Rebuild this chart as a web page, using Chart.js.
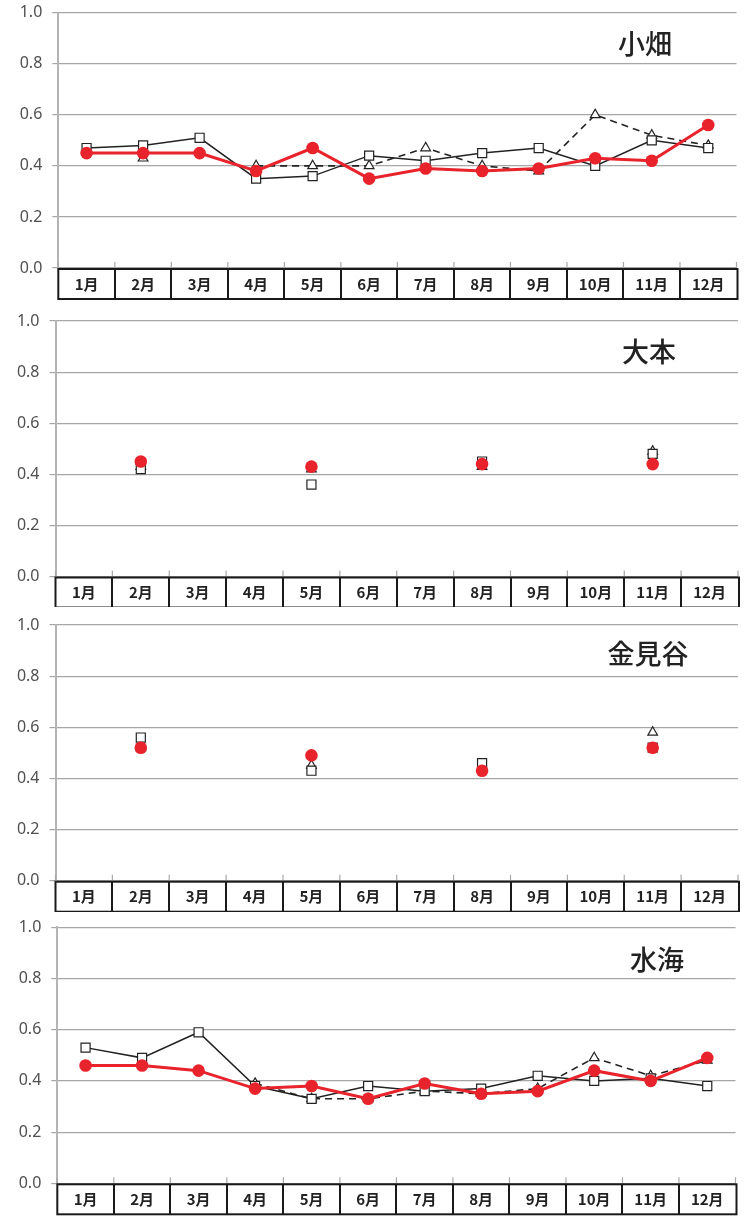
<!DOCTYPE html>
<html>
<head>
<meta charset="utf-8">
<script src="https://cdn.jsdelivr.net/npm/chart.js@4.4.1/dist/chart.umd.min.js"></script>
<style>
  html, body { margin: 0; padding: 0; background: #fff; }
  body { width: 749px; height: 1217px; position: relative; overflow: hidden; }
  .panel { position: absolute; left: 0; width: 749px; }
  .panel canvas { display: block; }
</style>
</head>
<body>
<div class="panel" id="wrap1"><canvas id="c1"></canvas></div>
<div class="panel" id="wrap2"><canvas id="c2"></canvas></div>
<div class="panel" id="wrap3"><canvas id="c3"></canvas></div>
<div class="panel" id="wrap4"><canvas id="c4"></canvas></div>
<script>
// Months along the x axis and y axis tick values
const months = ['1月', '2月', '3月', '4月', '5月', '6月', '7月', '8月', '9月', '10月', '11月', '12月'];
const yTickValues = [0, 0.2, 0.4, 0.6, 0.8, 1.0];

// 小畑
const obataSquare   = [0.47, 0.48, 0.51, 0.35, 0.36, 0.44, 0.42, 0.45, 0.47, 0.40, 0.50, 0.47];
const obataTriangle = [null, 0.43, null, 0.40, 0.40, 0.40, 0.47, 0.40, 0.38, 0.60, 0.52, 0.48];
const obataCircle   = [0.45, 0.45, 0.45, 0.38, 0.47, 0.35, 0.39, 0.38, 0.39, 0.43, 0.42, 0.56];

// 大本
const omotoSquare   = [null, 0.42, null, null, 0.36, null, null, 0.45, null, null, 0.48, null];
const omotoTriangle = [null, 0.43, null, null, 0.42, null, null, 0.43, null, null, 0.49, null];
const omotoCircle   = [null, 0.45, null, null, 0.43, null, null, 0.44, null, null, 0.44, null];

// 金見谷
const kanamidaniSquare   = [null, 0.56, null, null, 0.43, null, null, 0.46, null, null, 0.52, null];
const kanamidaniTriangle = [null, 0.52, null, null, 0.45, null, null, 0.44, null, null, 0.58, null];
const kanamidaniCircle   = [null, 0.52, null, null, 0.49, null, null, 0.43, null, null, 0.52, null];

// 水海
const uomiSquare   = [0.53, 0.49, 0.59, 0.38, 0.33, 0.38, 0.36, 0.37, 0.42, 0.40, 0.41, 0.38];
const uomiTriangle = [null, null, null, 0.39, 0.33, 0.33, 0.36, 0.35, 0.37, 0.49, 0.42, 0.48];
const uomiCircle   = [0.46, 0.46, 0.44, 0.37, 0.38, 0.33, 0.39, 0.35, 0.36, 0.44, 0.40, 0.49];

const RED = '#e8232b';
const INK = '#222222';
const TICK_FONT = '"Noto Sans", "Liberation Sans", sans-serif';
const CJK_FONT = '"Noto Sans CJK JP", "Noto Sans CJK SC", sans-serif';

// Month table under the plot plus small inward tick marks on the x axis
const monthTable = {
  id: 'monthTable',
  beforeDatasetsDraw(chart) {
    const { ctx, chartArea: a } = chart;
    const n = months.length;
    const w = (a.right - a.left) / n;
    ctx.save();
    ctx.strokeStyle = '#a8a8a8';
    ctx.lineWidth = 1.2;
    ctx.beginPath();
    for (let i = 0; i <= n; i++) {
      const x = a.left + i * w;
      ctx.moveTo(x, a.bottom - 6);
      ctx.lineTo(x, a.bottom);
    }
    ctx.stroke();
    ctx.restore();
  },
  afterDraw(chart, args, opts) {
    const { ctx, chartArea: a } = chart;
    const n = months.length;
    const w = (a.right - a.left) / n;
    const top = a.bottom + 1;
    const h = opts.height || 30;
    ctx.save();
    ctx.strokeStyle = '#1a1a1a';
    ctx.lineWidth = 2;
    ctx.strokeRect(a.left, top, a.right - a.left + 1, h);
    ctx.beginPath();
    for (let i = 1; i < n; i++) {
      const x = Math.round(a.left + i * w);
      ctx.moveTo(x, top);
      ctx.lineTo(x, top + h);
    }
    ctx.stroke();
    ctx.restore();
  }
};

// Site name in the upper right of each panel
const siteTitle = {
  id: 'siteTitle',
  afterDraw(chart, args, opts) {
    const { ctx } = chart;
    ctx.save();
    ctx.fillStyle = INK;
    ctx.font = '500 27px ' + CJK_FONT;
    ctx.textAlign = 'center';
    ctx.textBaseline = 'middle';
    ctx.fillText(opts.text, opts.x, opts.y);
    ctx.restore();
  }
};

function makePanel(canvasId, wrapId, name, square, triangle, circle, g) {
  const wrap = document.getElementById(wrapId);
  wrap.style.top = g.top + 'px';
  const canvas = document.getElementById(canvasId);
  canvas.width = 749;
  canvas.height = g.height;
  canvas.style.width = '749px';
  canvas.style.height = g.height + 'px';

  return new Chart(canvas, {
    type: 'line',
    data: {
      labels: months,
      datasets: [
        {
          data: circle,
          borderColor: RED,
          backgroundColor: RED,
          borderWidth: 3,
          pointStyle: 'circle',
          pointRadius: 6.3,
          pointBorderWidth: 0,
          pointBackgroundColor: RED,
          tension: 0,
          order: 0
        },
        {
          data: square,
          borderColor: INK,
          borderWidth: 1.5,
          pointStyle: 'rect',
          pointRadius: 6.4,
          pointBackgroundColor: '#ffffff',
          pointBorderColor: INK,
          pointBorderWidth: 1.2,
          tension: 0,
          order: 1
        },
        {
          data: triangle,
          borderColor: INK,
          borderWidth: 1.6,
          borderDash: [7, 5],
          pointStyle: 'triangle',
          pointRadius: 5.6,
          pointBackgroundColor: '#ffffff',
          pointBorderColor: INK,
          pointBorderWidth: 1.2,
          tension: 0,
          order: 2
        }
      ]
    },
    options: {
      responsive: false,
      animation: false,
      devicePixelRatio: 1,
      layout: { padding: { top: g.padTop, right: 749 - g.right, left: 0, bottom: 0 } },
      plugins: {
        legend: { display: false },
        tooltip: { enabled: false },
        monthTable: { height: 30 },
        siteTitle: { text: name, x: g.titleX, y: g.titleY - g.top }
      },
      scales: {
        x: {
          type: 'category',
          offset: true,
          grid: { display: false, offset: true, drawTicks: false },
          border: { display: false },
          ticks: {
            color: INK,
            font: { family: CJK_FONT, size: 15, weight: 'bold' },
            padding: 7,
            maxRotation: 0,
            autoSkip: false
          },
          afterFit(scale) { scale.height = g.xHeight; }
        },
        y: {
          min: 0,
          max: 1,
          afterBuildTicks(scale) { scale.ticks = yTickValues.map(v => ({ value: v })); },
          grid: { color: '#a6a6a6', lineWidth: 1.2, tickLength: 6, tickColor: '#a6a6a6' },
          border: { color: '#b4b4b4', width: 2 },
          ticks: {
            color: '#505050',
            font: { family: TICK_FONT, size: 16 },
            padding: 10,
            callback: v => Number(v).toFixed(1)
          },
          afterFit(scale) { scale.width = g.left; }
        }
      }
    },
    plugins: [monthTable, siteTitle]
  });
}

// Panel placement on the page
const panels = [
  { c: 'c1', w: 'wrap1', name: '小畑', sq: obataSquare, tr: obataTriangle, ci: obataCircle,
    g: { top: -10, height: 310, padTop: 22.7, left: 58.3, right: 736.5, xHeight: 32, titleX: 645, titleY: 44 } },
  { c: 'c2', w: 'wrap2', name: '大本', sq: omotoSquare, tr: omotoTriangle, ci: omotoCircle,
    g: { top: 298, height: 309, padTop: 23, left: 55.5, right: 738, xHeight: 30.5, titleX: 649, titleY: 352 } },
  { c: 'c3', w: 'wrap3', name: '金見谷', sq: kanamidaniSquare, tr: kanamidaniTriangle, ci: kanamidaniCircle,
    g: { top: 602, height: 310, padTop: 23, left: 55.5, right: 738, xHeight: 31.3, titleX: 648, titleY: 654 } },
  { c: 'c4', w: 'wrap4', name: '水海', sq: uomiSquare, tr: uomiTriangle, ci: uomiCircle,
    g: { top: 904, height: 313, padTop: 23.3, left: 57.3, right: 735.5, xHeight: 33.7, titleX: 657, titleY: 960 } }
];

panels.forEach(p => makePanel(p.c, p.w, p.name, p.sq, p.tr, p.ci, p.g));
</script>
</body>
</html>
